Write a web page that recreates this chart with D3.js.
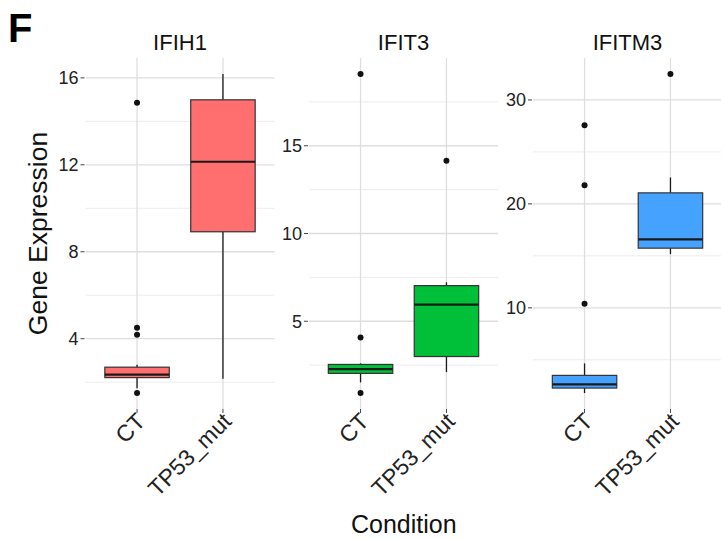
<!DOCTYPE html>
<html>
<head>
<meta charset="utf-8">
<script src="https://cdn.jsdelivr.net/npm/d3@7"></script>
<style>
  body { margin: 0; background: #fff; }
  text { font-family: "Liberation Sans", Arial, Helvetica, sans-serif; fill: #111; }
</style>
</head>
<body>
<svg id="chart" width="721" height="539"></svg>
<script>
const genes = ['IFIH1', 'IFIT3', 'IFITM3'];
const conditions = ['CT', 'TP53_mut'];

// [lower whisker, q1, median, q3, upper whisker] for CT and TP53_mut
const ifih1Boxes = [[1.72, 2.21, 2.35, 2.69, 2.8], [2.16, 8.92, 12.14, 14.99, 16.18]];
const ifit3Boxes = [[1.52, 2.03, 2.27, 2.54, 2.6], [2.1, 2.99, 5.95, 7.03, 7.22]];
const ifitm3Boxes = [[1.8, 2.28, 2.63, 3.5, 4.65], [15.16, 15.74, 16.58, 21.06, 22.54]];

const ifih1Outliers = [[14.86, 4.5, 4.18, 1.5], []];
const ifit3Outliers = [[19.09, 4.07, 0.91], [14.15]];
const ifitm3Outliers = [[27.57, 21.8, 10.38], [32.5]];

const ifih1Ticks = [4, 8, 12, 16];
const ifit3Ticks = [5, 10, 15];
const ifitm3Ticks = [10, 20, 30];

const boxes = [ifih1Boxes, ifit3Boxes, ifitm3Boxes];
const outliers = [ifih1Outliers, ifit3Outliers, ifitm3Outliers];
const ticks = [ifih1Ticks, ifit3Ticks, ifitm3Ticks];
const fills = ['#FF6F6F', '#00BF38', '#45A3FF'];

const svg = d3.select('#chart');
const panelTop = 58, panelBottom = 409, panelW = 189;
const lefts = [85.5, 309, 533];

genes.forEach((gene, gi) => {
  const left = lefts[gi];
  const g = svg.append('g');

  const vals = boxes[gi].flat().concat(outliers[gi].flat());
  const lo = d3.min(vals), hi = d3.max(vals), pad = (hi - lo) * 0.05;
  const y = d3.scaleLinear().domain([lo - pad, hi + pad]).range([panelBottom, panelTop]);
  const x = d3.scalePoint().domain(conditions).range([left, left + panelW]).padding(0.6);
  const bw = x.step() * 0.75;

  // minor grid lines halfway between the major ones
  const major = ticks[gi];
  const step = major[1] - major[0];
  const minor = [major[0] - step / 2].concat(major.map(t => t + step / 2))
    .filter(t => t > y.domain()[0] && t < y.domain()[1]);

  g.selectAll('.minor').data(minor).enter().append('line')
    .attr('x1', left).attr('x2', left + panelW)
    .attr('y1', d => y(d)).attr('y2', d => y(d))
    .attr('stroke', '#ececec').attr('stroke-width', 1);

  g.selectAll('.major').data(major).enter().append('line')
    .attr('x1', left).attr('x2', left + panelW)
    .attr('y1', d => y(d)).attr('y2', d => y(d))
    .attr('stroke', '#dedede').attr('stroke-width', 1.3);

  g.selectAll('.vgrid').data(conditions).enter().append('line')
    .attr('x1', d => x(d)).attr('x2', d => x(d))
    .attr('y1', panelTop).attr('y2', panelBottom)
    .attr('stroke', '#dedede').attr('stroke-width', 1.3);

  // y axis
  g.selectAll('.ytick').data(major).enter().append('line')
    .attr('x1', left - 5).attr('x2', left - 1)
    .attr('y1', d => y(d)).attr('y2', d => y(d))
    .attr('stroke', '#444').attr('stroke-width', 1);

  g.selectAll('.ylab').data(major).enter().append('text')
    .attr('x', left - 7).attr('y', d => y(d))
    .attr('dy', '0.36em').attr('text-anchor', 'end')
    .style('font-size', '18px').style('fill', '#222')
    .text(d => d);

  // x axis
  g.selectAll('.xtick').data(conditions).enter().append('line')
    .attr('x1', d => x(d)).attr('x2', d => x(d))
    .attr('y1', panelBottom).attr('y2', panelBottom + 4)
    .attr('stroke', '#444').attr('stroke-width', 1);

  g.selectAll('.xlab').data(conditions).enter().append('text')
    .attr('transform', d => `translate(${x(d)},${panelBottom + 4}) rotate(-45)`)
    .attr('dy', '0.6em').attr('text-anchor', 'end')
    .style('font-size', '23px').style('fill', '#222')
    .text(d => d);

  // boxes
  conditions.forEach((c, ci) => {
    const [wl, q1, med, q3, wh] = boxes[gi][ci];
    const cx = x(c);
    g.append('line').attr('x1', cx).attr('x2', cx)
      .attr('y1', y(q3)).attr('y2', y(wh))
      .attr('stroke', '#1a1a1a').attr('stroke-width', 1.3);
    g.append('line').attr('x1', cx).attr('x2', cx)
      .attr('y1', y(q1)).attr('y2', y(wl))
      .attr('stroke', '#1a1a1a').attr('stroke-width', 1.3);
    g.append('rect')
      .attr('x', cx - bw / 2).attr('width', bw)
      .attr('y', y(q3)).attr('height', y(q1) - y(q3))
      .attr('fill', fills[gi]).attr('stroke', '#333').attr('stroke-width', 1.2);
    g.append('line')
      .attr('x1', cx - bw / 2).attr('x2', cx + bw / 2)
      .attr('y1', y(med)).attr('y2', y(med))
      .attr('stroke', '#1a1a1a').attr('stroke-width', 2.2);

    g.selectAll(null).data(outliers[gi][ci]).enter().append('circle')
      .attr('cx', cx).attr('cy', d => y(d)).attr('r', 3)
      .attr('fill', '#111');
  });

  g.append('text')
    .attr('x', left + panelW / 2).attr('y', 50)
    .attr('text-anchor', 'middle')
    .style('font-size', '22px')
    .text(gene);
});

svg.append('text')
  .attr('x', 8).attr('y', 42)
  .style('font-size', '40px').style('font-weight', 'bold').style('fill', '#000')
  .text('F');

svg.append('text')
  .attr('transform', `translate(47,${(panelTop + panelBottom) / 2}) rotate(-90)`)
  .attr('text-anchor', 'middle')
  .style('font-size', '26.5px')
  .text('Gene Expression');

svg.append('text')
  .attr('x', (lefts[0] + lefts[2] + panelW) / 2).attr('y', 533)
  .attr('text-anchor', 'middle')
  .style('font-size', '25px')
  .text('Condition');
</script>
</body>
</html>
